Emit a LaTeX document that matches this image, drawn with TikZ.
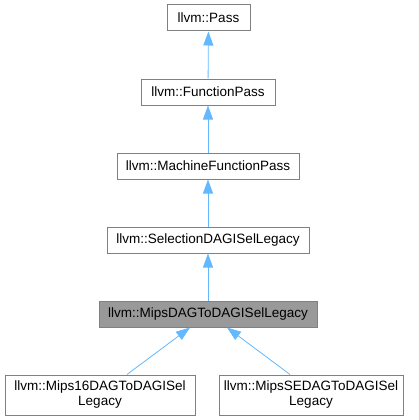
\documentclass[tikz,border=0pt]{standalone}
\usepackage{fontspec}
\setmainfont{Liberation Sans}
\usetikzlibrary{arrows.meta}
\definecolor{edgeblue}{HTML}{63B8FF}
\definecolor{boxline}{HTML}{808080}
\definecolor{curfill}{HTML}{999999}

\begin{document}
\begin{tikzpicture}[x=1pt, y=-1pt,
		cls/.style={draw=boxline, line width=1pt, fill=white, inner sep=0pt, align=center,
			font=\fontsize{13.5}{15}\selectfont},
		cur/.style={cls, fill=curfill},
		inherit/.style={draw=edgeblue, line width=0.8pt, -{Triangle[length=14pt, width=10pt]}}]
			%%%%% START %%%%%
			\useasboundingbox (0, 0) rectangle (419, 420);
			
			\node[cls, minimum width=83pt, minimum height=26pt] (pass) at (208.5, 18) {llvm::Pass};
			\node[cls, minimum width=134pt, minimum height=26pt] (fpass) at (208, 92) {llvm::FunctionPass};
			\node[cls, minimum width=182pt, minimum height=26pt] (mfpass) at (208, 166) {llvm::MachineFunctionPass};
			\node[cls, minimum width=202pt, minimum height=26pt] (sdag) at (208, 240) {llvm::SelectionDAGISelLegacy};
			\node[cur, minimum width=218pt, minimum height=26pt] (mips) at (208, 314) {llvm::MipsDAGToDAGISelLegacy};
			
			\node[cls, minimum width=190pt, minimum height=40pt] (mips16) at (100, 395) {llvm::Mips16DAGToDAGISel\\Legacy};
			\node[cls, minimum width=184pt, minimum height=40pt] (mipsse) at (311, 395) {llvm::MipsSEDAGToDAGISel\\Legacy};
			
			\draw[inherit] (fpass) -- (pass);
			\draw[inherit] (mfpass) -- (fpass);
			\draw[inherit] (sdag) -- (mfpass);
			\draw[inherit] (mips) -- (sdag);
			
			\draw[inherit] ([xshift=27pt]mips16.north) -- ([xshift=-18pt]mips.south);
			\draw[inherit] ([xshift=-21pt]mipsse.north) -- ([xshift=19pt]mips.south);
			%%%%% END %%%%%
		\end{tikzpicture}
\end{document}
